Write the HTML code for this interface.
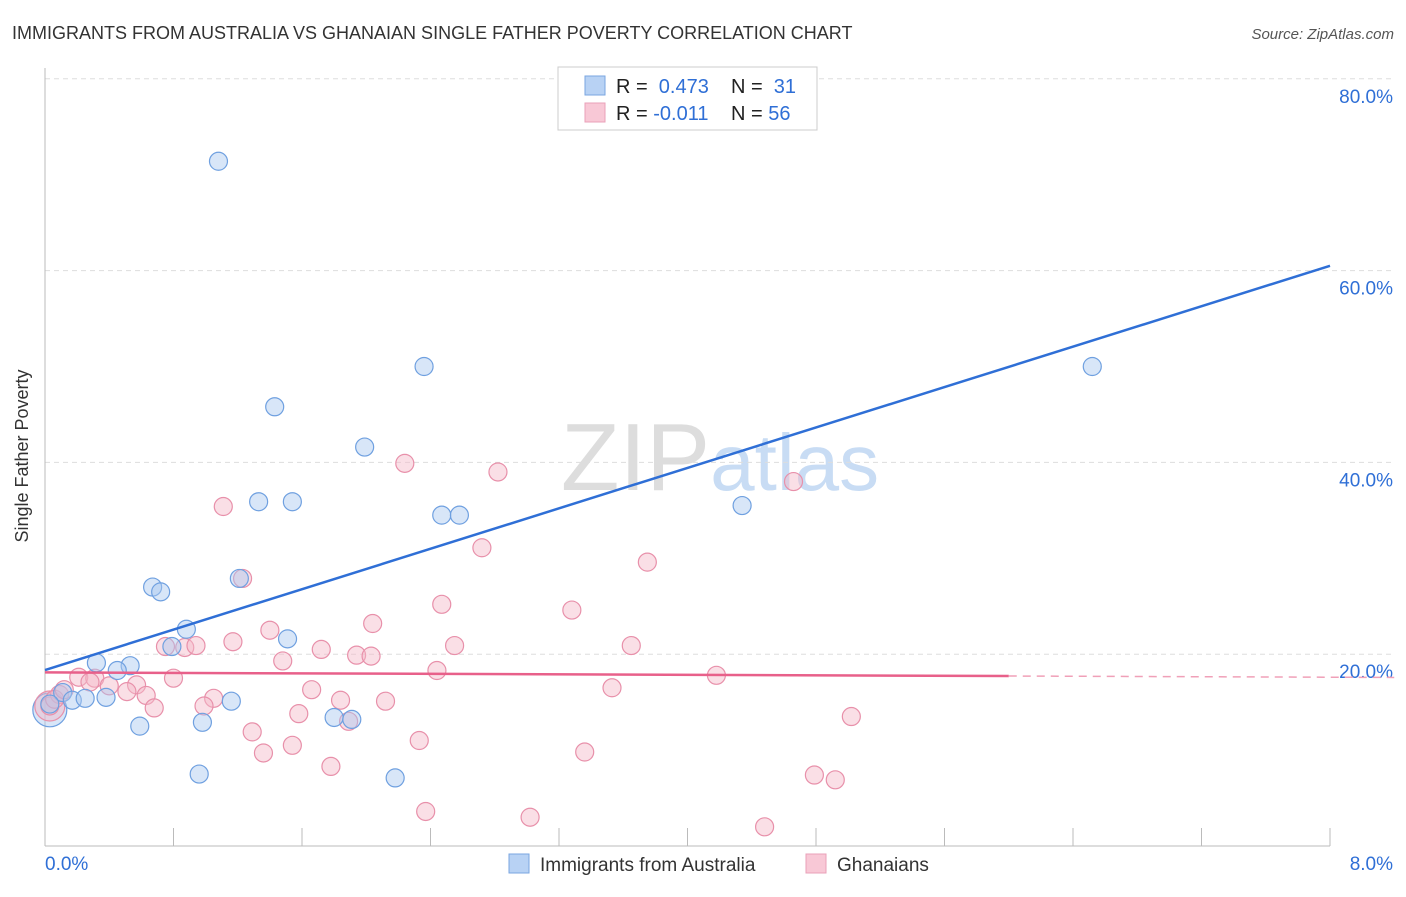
<!DOCTYPE html>
<html><head><meta charset="utf-8"><style>
body{margin:0;background:#fff;font-family:"Liberation Sans",sans-serif;}
svg text{font-family:"Liberation Sans",sans-serif;}
</style></head><body>
<svg id="chart" width="1406" height="892">
<text x="12" y="39" font-size="18" fill="#333">IMMIGRANTS FROM AUSTRALIA VS GHANAIAN SINGLE FATHER POVERTY CORRELATION CHART</text>
<text x="1394" y="39" font-size="15" fill="#555" font-style="italic" text-anchor="end">Source: ZipAtlas.com</text>
<text x="720" y="490" font-size="96" fill="#ddd" text-anchor="middle" font-family="Liberation Serif">ZIP<tspan fill="#c8dcf4" font-family="Liberation Sans" font-size="80">atlas</tspan></text>
<g id="grid"></g>
<line x1="45" y1="68" x2="45" y2="846" stroke="#bbb"/>
<line x1="45" y1="846" x2="1330" y2="846" stroke="#bbb"/>
<g id="xticks"></g>
<text x="28" y="456" font-size="18" fill="#333" text-anchor="middle" transform="rotate(-90 28 456)">Single Father Poverty</text>
<g id="pts"></g>
<g id="lines"></g>
<g>
<rect x="558" y="67" width="259" height="63" fill="#fff" stroke="#ccc"/>
<rect x="585" y="76" width="20" height="19" fill="#b8d2f4" stroke="#7aa6e0"/>
<rect x="585" y="103" width="20" height="19" fill="#f8c8d6" stroke="#eaa0b8"/>
<text x="616" y="93" font-size="20" fill="#222">R = <tspan fill="#2f6fd6">&#160;0.473</tspan><tspan x="731">N = </tspan><tspan fill="#2f6fd6">&#160;31</tspan></text>
<text x="616" y="120" font-size="20" fill="#222">R = <tspan fill="#2f6fd6">-0.011</tspan><tspan x="731">N = </tspan><tspan fill="#2f6fd6">56</tspan></text>
</g>
<g>
<rect x="509" y="854" width="20" height="19" fill="#b8d2f4" stroke="#7aa6e0"/>
<text x="540" y="871" font-size="19" fill="#333">Immigrants from Australia</text>
<rect x="806" y="854" width="20" height="19" fill="#f8c8d6" stroke="#eaa0b8"/>
<text x="837" y="871" font-size="19" fill="#333">Ghanaians</text>
</g>
</svg>
<script>
const NS="http://www.w3.org/2000/svg";
const yTicks=[20,40,60,80];
const xTickLabels=["0.0%","8.0%"];
const blueX=[1.08,2.36,1.43,1.99,1.33,1.54,2.47,2.58,4.34,6.52,0.67,0.72,1.21,0.88,0.79,1.51,0.32,0.53,0.45,0.11,0.17,0.25,0.38,0.03,0.59,0.98,1.16,1.80,1.91,0.96,2.18];
const blueY=[71.4,50.0,45.8,41.6,35.9,35.9,34.5,34.5,35.5,50.0,27.0,26.5,27.9,22.6,20.8,21.6,19.1,18.8,18.3,16.0,15.2,15.4,15.5,14.8,12.5,12.9,15.1,13.4,13.2,7.5,7.1];
const pinkX=[1.11,2.24,2.82,4.66,2.72,3.75,1.23,2.47,3.28,2.04,1.40,1.17,0.75,0.87,0.94,1.72,2.55,3.65,1.94,2.03,1.48,2.44,4.18,0.21,0.31,0.28,0.40,0.57,0.51,0.63,0.80,1.05,1.66,1.84,2.12,3.53,0.68,0.99,1.58,1.89,5.02,1.29,1.54,1.36,2.33,3.36,1.78,4.79,4.92,2.37,3.02,4.48,0.03,0.09,0.06,0.12];
const pinkY=[35.4,39.9,39.0,38.0,31.1,29.6,27.9,25.2,24.6,23.2,22.5,21.3,20.8,20.7,20.9,20.5,20.9,20.9,19.9,19.8,19.3,18.3,17.8,17.6,17.5,17.1,16.7,16.8,16.1,15.7,17.5,15.4,16.3,15.2,15.1,16.5,14.4,14.6,13.8,13.0,13.5,11.9,10.5,9.7,11.0,9.8,8.3,7.4,6.9,3.6,3.0,2.0,14.6,15.8,15.3,16.3];
const blueFit=[18.35,60.5];
const pinkFit=[18.1,17.6];
const X=v=>45+v/8*1285, Y=v=>846-v*9.59;
const g=document.getElementById('grid');
yTicks.forEach(t=>{
 const l=document.createElementNS(NS,'line');
 l.setAttribute('x1',45);l.setAttribute('x2',1394);l.setAttribute('y1',Y(t));l.setAttribute('y2',Y(t));
 l.setAttribute('stroke','#ddd');l.setAttribute('stroke-dasharray','5,4');
 
 
 g.appendChild(l);
 const tx=document.createElementNS(NS,'text');
 tx.setAttribute('x',1393);tx.setAttribute('y',Y(t)+24);tx.setAttribute('text-anchor','end');
 tx.setAttribute('font-size','19');tx.setAttribute('fill','#2f6fd6');tx.textContent=t.toFixed(1)+'%';
 
 
 g.appendChild(tx);
});
const xt=document.getElementById('xticks');
for(let i=0;i<=10;i++){
 const l=document.createElementNS(NS,'line');
 const x=X(i*0.8);
 l.setAttribute('x1',x);l.setAttribute('x2',x);l.setAttribute('y1',828);l.setAttribute('y2',846);l.setAttribute('stroke','#bbb');
 
 
 xt.appendChild(l);
}
xTickLabels.forEach((s,i)=>{
 const tx=document.createElementNS(NS,'text');
 tx.setAttribute('x',i?1393:45);tx.setAttribute('y',870);tx.setAttribute('text-anchor',i?'end':'start');
 tx.setAttribute('font-size','19');tx.setAttribute('fill','#2f6fd6');tx.textContent=s;
 
 
 xt.appendChild(tx);
});
const pts=document.getElementById('pts');
function dot(x,y,r,fill,stroke,name){
 const c=document.createElementNS(NS,'circle');
 c.setAttribute('cx',X(x));c.setAttribute('cy',Y(y));c.setAttribute('r',r);
 c.setAttribute('fill',fill);c.setAttribute('fill-opacity','0.45');c.setAttribute('stroke',stroke);c.setAttribute('stroke-width','1.2');
 
 
 pts.appendChild(c);
}
dot(0.03,14.2,17,'#a8c8f0','#6fa0e0','blue-point-large');
dot(0.03,14.6,15,'#f5b8c8','#e890aa','pink-point-large');
pinkX.forEach((x,i)=>dot(x,pinkY[i],9,'#f5b8c8','#e890aa','pink-point'));
blueX.forEach((x,i)=>dot(x,blueY[i],9,'#a8c8f0','#6fa0e0','blue-point'));
const ln=document.getElementById('lines');
function line(x1,y1,x2,y2,c,name,dash){
 const l=document.createElementNS(NS,'line');
 l.setAttribute('x1',X(x1));l.setAttribute('y1',Y(y1));l.setAttribute('x2',X(x2));l.setAttribute('y2',Y(y2));
 l.setAttribute('stroke',c);l.setAttribute('stroke-width',dash?1.5:2.5);
 if(dash)l.setAttribute('stroke-dasharray','8,6');
 
 
 ln.appendChild(l);
}
line(0,blueFit[0],8,blueFit[1],'#2f6fd6','blue-trend-line');
const pm=pinkFit[0]+(pinkFit[1]-pinkFit[0])*6/8;
line(0,pinkFit[0],6,pm,'#e8608a','pink-trend-line');
line(6,pm,8.4,pinkFit[0]+(pinkFit[1]-pinkFit[0])*8.4/8,'#f0a0b8','pink-trend-extension',true);
</script>
</body></html>
